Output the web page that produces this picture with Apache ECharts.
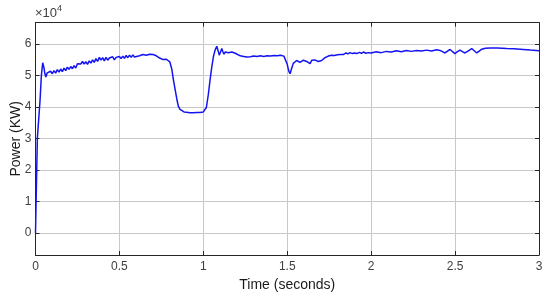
<!DOCTYPE html>
<html>
<head>
<meta charset="utf-8">
<script src="https://cdn.jsdelivr.net/npm/echarts@6/dist/echarts.min.js"></script>
<style>
  html, body { margin: 0; padding: 0; background: #fff; }
  #chart { width: 550px; height: 299px; }
</style>
</head>
<body>
<div id="chart"></div>
<script>
// time (s) and power (x10^4 KW)
const timeS = [
  0, 0.004, 0.011, 0.027, 0.035, 0.043, 0.050, 0.056, 0.062, 0.070,
  0.080, 0.090, 0.100, 0.110, 0.120, 0.130, 0.140, 0.150, 0.160, 0.170,
  0.180, 0.190, 0.200, 0.210, 0.220, 0.230, 0.240, 0.250, 0.260, 0.270,
  0.280, 0.290, 0.300, 0.310, 0.320, 0.330, 0.340, 0.350, 0.360, 0.370,
  0.380, 0.390, 0.400, 0.410, 0.420, 0.430, 0.440, 0.450, 0.460, 0.470,
  0.480, 0.490, 0.500, 0.510, 0.520, 0.530, 0.540, 0.550, 0.560, 0.570,
  0.580, 0.590, 0.600, 0.620, 0.640, 0.660, 0.680, 0.700, 0.720, 0.740,
  0.760, 0.780, 0.790, 0.800, 0.812, 0.822, 0.832, 0.842, 0.851, 0.861,
  0.871, 0.885, 0.900, 0.920, 0.940, 0.960, 0.980, 1.000, 1.010, 1.018,
  1.030, 1.040, 1.050, 1.060, 1.070, 1.080, 1.088, 1.095, 1.103, 1.110,
  1.117, 1.123, 1.131, 1.139, 1.149, 1.159, 1.170, 1.180, 1.190, 1.200,
  1.220, 1.240, 1.260, 1.280, 1.300, 1.320, 1.340, 1.360, 1.380, 1.400,
  1.420, 1.440, 1.460, 1.480, 1.490, 1.500, 1.510, 1.517, 1.525, 1.536,
  1.546, 1.556, 1.566, 1.576, 1.586, 1.596, 1.606, 1.616, 1.626, 1.636,
  1.646, 1.655, 1.665, 1.675, 1.685, 1.695, 1.705, 1.715, 1.725, 1.735,
  1.750, 1.765, 1.780, 1.800, 1.820, 1.834, 1.850, 1.862, 1.874, 1.888,
  1.900, 1.914, 1.930, 1.942, 1.954, 1.968, 1.983, 2.000, 2.030, 2.060,
  2.090, 2.120, 2.150, 2.180, 2.210, 2.240, 2.270, 2.300, 2.330, 2.360,
  2.390, 2.410, 2.425, 2.440, 2.455, 2.470, 2.485, 2.499, 2.514, 2.529,
  2.544, 2.559, 2.579, 2.599, 2.614, 2.629, 2.644, 2.659, 2.680, 2.709,
  2.750, 2.808, 2.850, 2.907, 2.950, 3.000
];
const powerE4 = [
  0, 0.02, 3.0, 4.2, 5.0, 5.4, 5.25, 5.05, 4.95, 5.08,
  5.02, 5.13, 5.05, 5.15, 5.07, 5.18, 5.10, 5.20, 5.12, 5.23,
  5.15, 5.26, 5.19, 5.28, 5.21, 5.31, 5.23, 5.37, 5.42, 5.36,
  5.44, 5.36, 5.43, 5.35, 5.46, 5.39, 5.49, 5.41, 5.53, 5.44,
  5.57, 5.48, 5.56, 5.46, 5.57, 5.48, 5.55, 5.50, 5.59, 5.49,
  5.57, 5.52, 5.60, 5.53, 5.61, 5.54, 5.63, 5.56, 5.64, 5.57,
  5.65, 5.58, 5.64, 5.62, 5.66, 5.64, 5.67, 5.66, 5.62, 5.55,
  5.50, 5.51, 5.48, 5.43, 5.20, 4.85, 4.55, 4.25, 4.02, 3.92,
  3.86, 3.84, 3.83, 3.81, 3.81, 3.82, 3.82, 3.84, 3.88, 3.98,
  4.40, 4.85, 5.25, 5.59, 5.80, 5.92, 5.78, 5.64, 5.75, 5.85,
  5.74, 5.67, 5.74, 5.78, 5.72, 5.71, 5.74, 5.69, 5.70, 5.64,
  5.62, 5.60, 5.58, 5.59, 5.61, 5.60, 5.62, 5.60, 5.62, 5.61,
  5.63, 5.62, 5.64, 5.61, 5.55, 5.35, 5.12, 5.05, 5.20, 5.38,
  5.44, 5.47, 5.42, 5.41, 5.47, 5.48, 5.43, 5.44, 5.40, 5.37,
  5.48, 5.54, 5.49, 5.46, 5.44, 5.43, 5.47, 5.52, 5.56, 5.59,
  5.62, 5.64, 5.63, 5.65, 5.66, 5.66, 5.71, 5.68, 5.72, 5.69,
  5.71, 5.69, 5.73, 5.70, 5.74, 5.70, 5.72, 5.71, 5.75, 5.72,
  5.76, 5.74, 5.78, 5.75, 5.79, 5.76, 5.79, 5.77, 5.80, 5.77,
  5.81, 5.79, 5.75, 5.71, 5.77, 5.82, 5.75, 5.69, 5.75, 5.80,
  5.75, 5.71, 5.78, 5.85, 5.78, 5.71, 5.77, 5.83, 5.86, 5.87,
  5.87, 5.85, 5.84, 5.82, 5.80, 5.78
];
const yTicks = [0, 1, 2, 3, 4, 5, 6];

const chart = echarts.init(document.getElementById('chart'));

const font = 'Liberation Sans, Arial, sans-serif';
const tickStyle = { inside: true, length: 4, lineStyle: { color: '#262626' } };
const lineStyle = { show: true, onZero: false, lineStyle: { color: '#262626', width: 1 } };
const gridLine = { show: true, lineStyle: { color: '#c8c8c8', width: 1 } };

const option = {
  animation: false,
  grid: { left: 35.5, right: 11, top: 22.7, bottom: 44, outerBoundsMode: 'none', containLabel: false },
  xAxis: [
    {
      type: 'value', min: 0, max: 3, interval: 0.5,
      name: 'Time (seconds)', nameLocation: 'middle', nameGap: 22,
      nameTextStyle: { fontFamily: font, fontSize: 14, color: '#1a1a1a' },
      axisLine: lineStyle, axisTick: tickStyle, splitLine: gridLine,
      axisLabel: { fontFamily: font, fontSize: 12, color: '#404040', margin: 6 }
    },
    {
      type: 'value', min: 0, max: 3, interval: 0.5, position: 'top',
      axisLine: lineStyle, axisTick: tickStyle, splitLine: { show: false },
      axisLabel: { show: false }
    }
  ],
  yAxis: [
    {
      type: 'value', min: -0.7, max: 6.67,
      name: 'Power (KW)', nameLocation: 'middle', nameGap: 12, nameMoveOverlap: false,
      nameTextStyle: { fontFamily: font, fontSize: 14, color: '#1a1a1a' },
      axisLine: lineStyle,
      axisTick: Object.assign({ customValues: yTicks }, tickStyle),
      splitLine: gridLine,
      axisLabel: { customValues: yTicks, fontFamily: font, fontSize: 12, color: '#404040', margin: 4 }
    },
    {
      type: 'value', min: -0.7, max: 6.67, position: 'right',
      axisLine: lineStyle,
      axisTick: Object.assign({ customValues: yTicks }, tickStyle),
      splitLine: { show: false },
      axisLabel: { show: false }
    }
  ],
  graphic: [
    {
      type: 'text', left: 35, top: 4,
      style: {
        text: '{b|×10}{s|4}',
        rich: {
          b: { fontFamily: font, fontSize: 13, fill: '#404040', verticalAlign: 'bottom', lineHeight: 16 },
          s: { fontFamily: font, fontSize: 9, fill: '#404040', verticalAlign: 'top', lineHeight: 10 }
        }
      }
    }
  ],
  series: [
    {
      type: 'line',
      xAxisIndex: 0, yAxisIndex: 0,
      data: timeS.map((t, i) => [t, powerE4[i]]),
      showSymbol: false,
      lineStyle: { color: '#1414f0', width: 1.5 },
      clip: true
    }
  ]
};

chart.setOption(option);
</script>
</body>
</html>
